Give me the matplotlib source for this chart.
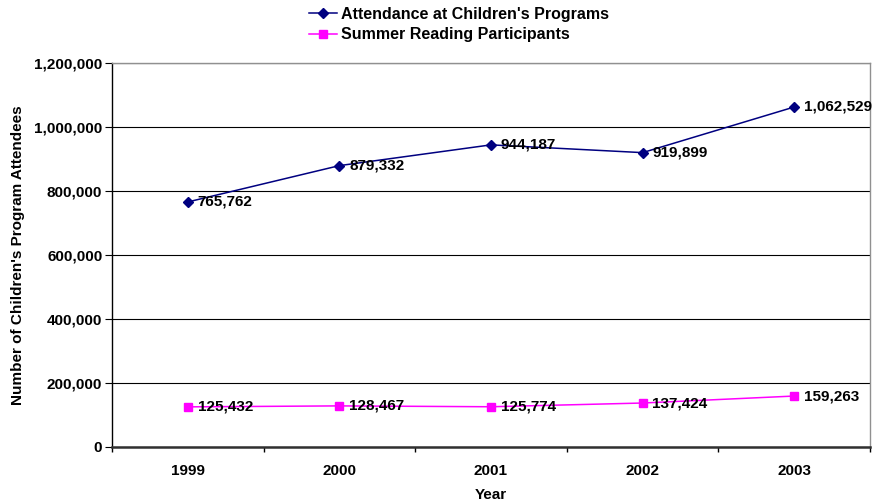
import matplotlib
matplotlib.use("Agg")
import matplotlib.pyplot as plt
from matplotlib.ticker import FuncFormatter

years = ["1999", "2000", "2001", "2002", "2003"]
attendance = [765762, 879332, 944187, 919899, 1062529]
summer_reading = [125432, 128467, 125774, 137424, 159263]

plt.rcParams["font.family"] = ["Liberation Sans", "DejaVu Sans"]
plt.rcParams["font.weight"] = "bold"

W, H = 873, 503
fig = plt.figure(figsize=(W / 100, H / 100), dpi=100)
# plot area: x 112..870, y 63..447 (pixels)
ax = fig.add_axes([112 / W, 1 - 447 / H, 758 / W, 384 / H])

x = list(range(len(years)))
ax.plot(x, attendance, color="#000080", marker="D", markersize=4.6,
        linewidth=1.1, label="Attendance at Children's Programs")
ax.plot(x, summer_reading, color="#FF00FF", marker="s", markersize=6,
        linewidth=1.1, label="Summer Reading Participants")

# data labels right of each point
for series in (attendance, summer_reading):
    for xi, v in zip(x, series):
        ax.annotate(f"{v:,}", (xi, v), xytext=(7, 0), textcoords="offset points",
                    va="center", ha="left", fontsize=11, fontweight="bold",
                    clip_on=False)

ax.set_xlim(-0.5, len(years) - 0.5)
ax.set_ylim(0, 1200000)
ax.set_yticks(range(0, 1200001, 200000))
ax.yaxis.set_major_formatter(FuncFormatter(lambda v, p: f"{int(v):,}"))
ax.grid(axis="y", color="black", linewidth=0.8)
ax.set_axisbelow(True)

# category ticks sit between the categories
ax.set_xticks(x)
ax.set_xticklabels(years)
ax.set_xticks([i - 0.5 for i in range(len(years) + 1)], minor=True)
ax.tick_params(axis="x", which="major", length=0, pad=12, labelsize=11)
ax.tick_params(axis="x", which="minor", length=3.5, width=1, color="black")
ax.tick_params(axis="y", length=5, pad=2, labelsize=11, color="black")

ax.spines["top"].set_color("#909090")
ax.spines["right"].set_color("#909090")
ax.spines["top"].set_linewidth(1)
ax.spines["right"].set_linewidth(1)
ax.spines["left"].set_color("black")
ax.spines["left"].set_linewidth(1)
ax.spines["bottom"].set_color("#303030")
ax.spines["bottom"].set_linewidth(1.8)

ax.set_xlabel("Year", fontsize=11, fontweight="bold")
ax.set_ylabel("Number of Children's Program Attendees", fontsize=11,
              fontweight="bold")
ax.xaxis.set_label_coords(0.5, (447 - 488) / 384)
ax.yaxis.set_label_coords((25 - 112) / 758, 0.5)

fig.legend(loc="upper left", bbox_to_anchor=(309 / W, 1 - 7 / H), frameon=False,
           handlelength=1.75, handletextpad=0.25, labelspacing=0.33,
           borderpad=0, borderaxespad=0,
           prop={"weight": "bold", "size": 11.5})

fig.savefig("out.png", dpi=100)
